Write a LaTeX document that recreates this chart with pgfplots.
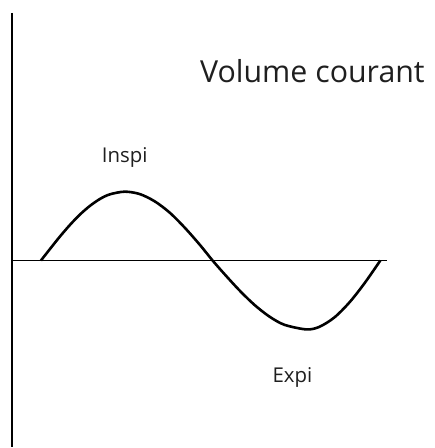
\documentclass[border=0pt]{standalone}
\usepackage{pgfplots}
\pgfplotsset{compat=1.18}
\usepackage{fontspec}
\setmainfont{Open Sans}
\begin{document}
\begin{tikzpicture}
\begin{axis}[
  scale only axis, width=435bp, height=448bp,
  xmin=0, xmax=435, ymin=0, ymax=448, y dir=reverse,
  hide axis, clip=false,
]
\path (axis cs:0,0) rectangle (axis cs:435,448);
% vertical axis
\addplot[black, line width=1.6bp] coordinates {(12,13) (12,448)};
% horizontal axis
\addplot[black, line width=1.1bp] coordinates {(12,261) (388,261)};
% curve
\addplot[black, line width=2.6bp, smooth] coordinates {
(41,261) (50,249.5) (60,237) (70,225.4) (80,215) (90,206.3) (100,199.4) (110,194.7) (125,192)
(140,194.4) (155,201.7) (170,213) (185,228) (200,245) (213,261)
(225,274.7) (240,291) (255,305.5) (270,317.2) (285,325.4) (307,330)
(320,327.4) (335,318) (350,303) (365,284) (381,261)
};
\node[font=\fontsize{30.5}{34}\selectfont, text=black!88] at (axis cs:313,71) {Volume courant};
\node[font=\fontsize{20.5}{24}\selectfont, text=black!88] at (axis cs:125,158) {Inspi};
\node[font=\fontsize{20.5}{24}\selectfont, text=black!88] at (axis cs:293,378) {Expi};
\end{axis}
\end{tikzpicture}
\end{document}
